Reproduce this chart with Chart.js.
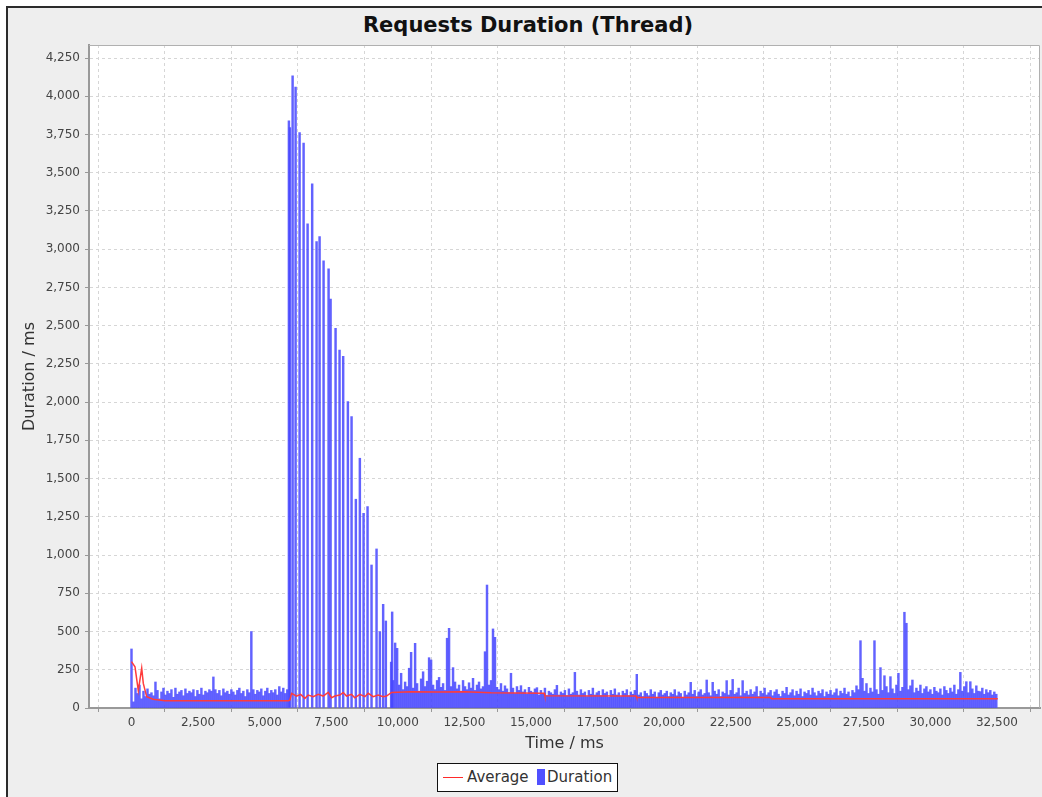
<!DOCTYPE html>
<html>
<head>
<meta charset="utf-8">
<title>Requests Duration (Thread)</title>
<script src="https://cdn.jsdelivr.net/npm/chart.js@4/dist/chart.umd.min.js"></script>
<style>
  html, body { margin: 0; padding: 0; background: #ffffff; overflow: hidden; }
  #frame { position: absolute; left: 6px; top: 6px; width: 1040px; height: 795px;
           background: #eeeeee; border-left: 2px solid #2b2b2b; border-top: 2px solid #2b2b2b; }
  #chartTitle { position: absolute; left: 7px; top: 12px; width: 1042px; text-align: center;
                font: bold 21px "DejaVu Sans", sans-serif; color: #111; line-height: 26px; }
  #wrap { position: absolute; left: 0; top: 0; width: 1042px; height: 797px; }
  #legendBox { position: absolute; left: 437px; top: 763px; width: 179px; height: 27px;
               background: #fff; border: 1px solid #111; overflow: hidden;
               font: 15px "DejaVu Sans", sans-serif; color: #333; }
  #legendBox .line { position: absolute; left: 5px; top: 13px; width: 20px; height: 1px; background: #ff2a2a; }
  #legendBox .swatch { position: absolute; left: 99px; top: 5px; width: 8px; height: 16px; background: #5050ff; }
  #legendBox .lbl { position: absolute; top: 4px; line-height: 18px; white-space: nowrap; }
</style>
</head>
<body>
<div id="frame"></div>
<div id="chartTitle">Requests Duration (Thread)</div>
<div id="wrap"><canvas id="chart" width="1042" height="797"></canvas></div>
<div id="legendBox">
  <div class="line"></div><span class="lbl" style="left:29px">Average</span>
  <div class="swatch"></div><span class="lbl" style="left:109px">Duration</span>
</div>
<script>
// Request durations (ms), grouped in 75 ms time buckets from t = 0
const binMs = 75;
const earlyDurations = [
  386, 40, 130, 95, 150, 60, 110, 75, 125, 90,
  100, 80, 170, 115, 60, 105, 130, 85, 110, 95,
  120, 70, 130, 90, 105, 115, 80, 125, 95, 110,
  100, 120, 75, 115, 90, 130, 85, 110, 100, 120,
  110, 203, 120, 95, 115, 80, 125, 100, 110, 90,
  120, 105, 85, 115, 130, 95, 110, 75, 120, 100,
  500, 120, 90, 115, 105, 125, 80, 110, 130, 95,
  115, 100, 120, 85, 140, 105, 130, 95, 120
];

// Slow requests during the load burst (time ms / duration ms)
const burstTimes = [
  5911, 5948, 6050, 6162, 6312, 6463, 6613, 6785, 6950, 7063,
  7213, 7401, 7476, 7663, 7813, 7949, 8125, 8264, 8425, 8575,
  8714, 8864, 9014, 9202, 9326, 9450, 9551, 9788
];
const burstDurations = [
  3839, 3795, 4133, 4060, 3763, 3693, 3166, 3427, 3050, 3083,
  2923, 2871, 2673, 2483, 2341, 2300, 2003, 1905, 1365, 1633,
  1273, 1317, 935, 1040, 499, 678, 569, 628
];

// Buckets after the burst, starting at t = 9750 ms
const lateStartMs = 9750;
const lateDurations = [
  300, 180, 425, 390, 150, 227, 120, 170, 140, 260, 364, 130, 423, 160, 110, 190, 237, 140, 175, 329,
  314, 150, 120, 180, 200, 135, 160, 115, 456, 521, 140, 264, 170, 125, 150, 110, 180, 140, 120, 165,
  130, 194, 115, 150, 170, 125, 140, 368, 804, 150, 180, 517, 462, 135, 120, 160, 110, 145, 125, 100,
  227, 130, 95, 140, 115, 146, 105, 120, 90, 135, 110, 100, 125, 133, 85, 115, 95, 130, 80, 110,
  100, 90, 120, 148, 85, 105, 95, 115, 80, 125, 90, 100, 233, 110, 85, 120, 95, 105, 75, 115,
  90, 130, 85, 100, 110, 80, 120, 95, 105, 70, 115, 90, 125, 85, 100, 75, 110, 95, 120, 80,
  105, 90, 115, 220, 85, 100, 75, 110, 95, 80, 120, 90, 105, 70, 100, 115, 85, 95, 110, 75,
  100, 90, 120, 80, 105, 95, 70, 110, 85, 100, 168, 90, 115, 75, 105, 120, 85, 95, 183, 100,
  80, 168, 110, 90, 120, 75, 105, 95, 179, 85, 115, 187, 90, 100, 130, 80, 179, 95, 110, 85,
  120, 90, 105, 140, 75, 110, 95, 130, 85, 100, 115, 80, 105, 120, 90, 75, 110, 95, 135, 85,
  100, 120, 80, 110, 90, 125, 75, 105, 95, 115, 85, 130, 100, 80, 110, 95, 120, 75, 105, 90,
  115, 85, 100, 125, 80, 110, 95, 130, 90, 105, 75, 115, 100, 145, 120, 440, 194, 110, 160, 95,
  130, 105, 440, 120, 90, 264, 115, 211, 140, 100, 205, 125, 95, 150, 227, 110, 135, 626, 554, 120,
  145, 183, 100, 130, 110, 150, 95, 125, 140, 105, 120, 90, 135, 110, 100, 125, 85, 140, 115, 95,
  130, 105, 150, 90, 120, 233, 110, 140, 172, 100, 172, 125, 95, 145, 110, 107, 130, 90, 120, 100,
  115, 85, 105, 90
];

// Running average of the request duration
const avgTimes = [
  0, 131, 255, 383, 443, 570, 810, 1260, 5900, 5948,
  6011, 6200, 6350, 6511, 6636, 6824, 7012, 7199, 7387, 7512,
  7637, 7825, 7950, 8075, 8262, 8387, 8575, 8763, 8888, 9075,
  9263, 9450, 9576, 9765, 10500, 11500, 12500, 13500, 14500, 15500,
  15520, 18950, 18970, 24000, 24030, 32530
];
const avgValues = [
  303, 270, 113, 260, 161, 74, 57, 48, 48, 52,
  96, 78, 89, 63, 85, 74, 89, 78, 102, 67,
  78, 85, 102, 78, 89, 67, 89, 74, 96, 74,
  85, 74, 78, 102, 106, 104, 106, 100, 98, 96,
  80, 78, 68, 68, 60, 61
];

// Axis ticks
const xTicks = [0, 2500, 5000, 7500, 10000, 12500, 15000, 17500, 20000, 22500, 25000, 27500, 30000, 32500];
const yTicks = [0, 250, 500, 750, 1000, 1250, 1500, 1750, 2000, 2250, 2500, 2750, 3000, 3250, 3500, 3750, 4000, 4250];

const durationPoints = []
  .concat(earlyDurations.map((v, i) => ({ x: i * binMs, y: v })))
  .concat(burstTimes.map((t, i) => ({ x: t, y: burstDurations[i] })))
  .concat(lateDurations.map((v, i) => ({ x: lateStartMs + i * binMs, y: v })))
  .sort((a, b) => a.x - b.x);

const averagePoints = avgTimes.map((t, i) => ({ x: t, y: avgValues[i] }));

const plotFrame = {
  id: 'plotFrame',
  beforeDraw(chart) {
    const a = chart.chartArea, ctx = chart.ctx;
    ctx.save();
    ctx.fillStyle = '#ffffff';
    ctx.fillRect(a.left, a.top, a.right - a.left, a.bottom - a.top);
    ctx.restore();
  },
  afterDraw(chart) {
    const a = chart.chartArea, ctx = chart.ctx;
    ctx.save();
    ctx.strokeStyle = '#b0b0b0';
    ctx.lineWidth = 1;
    ctx.beginPath();
    ctx.moveTo(a.left, a.top + 0.5);
    ctx.lineTo(a.right - 0.5, a.top + 0.5);
    ctx.lineTo(a.right - 0.5, a.bottom);
    ctx.stroke();
    ctx.restore();
  }
};

const fmt = v => Number(v).toLocaleString('en-US');
const tickFont = { family: 'DejaVu Sans', size: 12 };
const titleFont = { family: 'DejaVu Sans', size: 16 };

new Chart(document.getElementById('chart'), {
  type: 'bar',
  data: {
    datasets: [
      {
        type: 'line',
        label: 'Average',
        data: averagePoints,
        borderColor: '#ff3b3b',
        borderWidth: 1.5,
        pointRadius: 0,
        tension: 0,
        fill: false,
        order: 0
      },
      {
        type: 'bar',
        label: 'Duration',
        data: durationPoints,
        backgroundColor: 'rgba(70,70,255,0.85)',
        borderWidth: 0,
        barThickness: 1.8,
        grouped: false,
        order: 1
      }
    ]
  },
  options: {
    responsive: false,
    animation: false,
    events: [],
    layout: { padding: { left: 0, right: 2, top: 45, bottom: 40 } },
    plugins: { legend: { display: false }, title: { display: false }, tooltip: { enabled: false } },
    scales: {
      x: {
        type: 'linear',
        offset: false,
        min: -1596,
        max: 34116,
        afterBuildTicks: s => { s.ticks = xTicks.map(v => ({ value: v })); },
        afterFit: s => { s.height = 49; },
        ticks: { callback: fmt, font: tickFont, color: '#444', padding: 4, maxRotation: 0, autoSkip: false },
        grid: { color: '#d6d6d6', lineWidth: 1, tickLength: 4, tickColor: '#999', tickBorderDash: [0, 0], drawTicks: true },
        border: { display: true, color: '#999', width: 2, dash: [3, 3] },
        title: { display: true, text: 'Time / ms', font: titleFont, color: '#333', padding: { top: 0, bottom: 4 } }
      },
      y: {
        type: 'linear',
        min: 0,
        max: 4335,
        afterBuildTicks: s => { s.ticks = yTicks.map(v => ({ value: v })); },
        afterFit: s => { s.width = 89; },
        ticks: { callback: fmt, font: tickFont, color: '#444', padding: 5, autoSkip: false },
        grid: { color: '#d6d6d6', lineWidth: 1, tickLength: 4, tickColor: '#999', tickBorderDash: [0, 0], drawTicks: true },
        border: { display: true, color: '#999', width: 2, dash: [3, 3] },
        title: { display: true, text: 'Duration / ms', font: titleFont, color: '#333', padding: { top: 20, bottom: 0 } }
      }
    }
  },
  plugins: [plotFrame]
});
</script>
</body>
</html>
